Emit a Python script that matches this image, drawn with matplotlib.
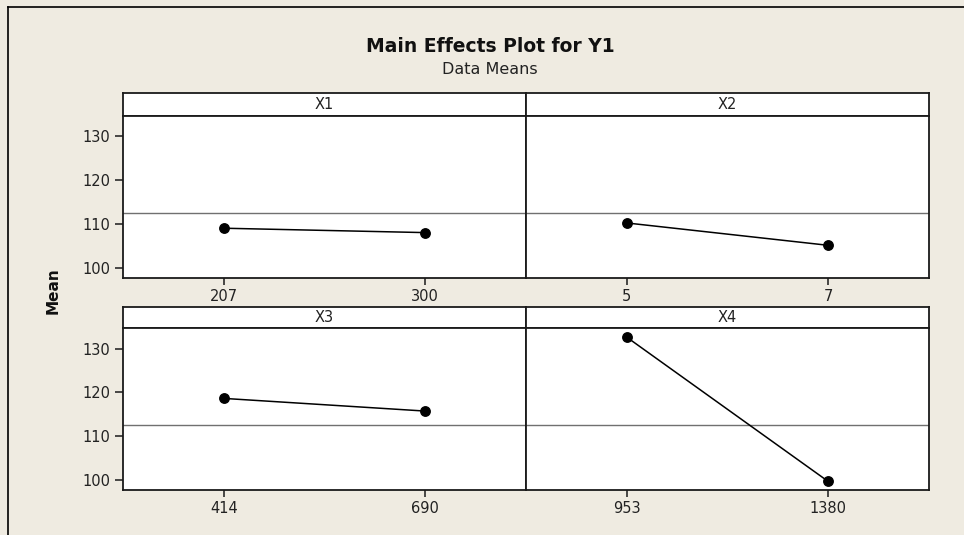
import matplotlib.pyplot as plt
from matplotlib.lines import Line2D

# factor names, levels and the mean response at each level
factors = ['X1', 'X2', 'X3', 'X4']
levels = [['207', '300'], ['5', '7'], ['414', '690'], ['953', '1380']]
means = [[109.0, 108.0], [110.2, 105.1], [118.6, 115.7], [132.6, 99.6]]
grand_mean = 112.5
y_ticks = [100, 110, 120, 130]

W, H = 964, 535
bg = '#efebe1'
edge = '#1a1a1a'

fig = plt.figure(figsize=(W / 100, H / 100), dpi=100, facecolor=bg)


def box(x0, y0, x1, y1):
    # pixel box (top-left origin) -> figure fraction rect
    return [x0 / W, 1 - y1 / H, (x1 - x0) / W, (y1 - y0) / H]


cols = [(123, 526), (526, 929)]
rows = [(93, 115.5, 278), (307, 328, 490)]

for i, name in enumerate(factors):
    r, c = divmod(i, 2)
    x0, x1 = cols[c]
    ys, yp, yb = rows[r]

    # strip with the factor name
    st = fig.add_axes(box(x0, ys, x1, yp))
    st.set_facecolor('white')
    st.set_xticks([])
    st.set_yticks([])
    for s in st.spines.values():
        s.set_color(edge)
        s.set_linewidth(1.3)
    st.text(0.5, 0.5, name, ha='center', va='center', fontsize=10.5,
            color='#222222', transform=st.transAxes)

    ax = fig.add_axes(box(x0, yp, x1, yb))
    ax.set_facecolor('white')
    ax.axhline(grand_mean, color='#707070', lw=1.0, zorder=1)
    ax.plot([0, 1], means[i], color='black', lw=1.1, marker='o',
            markersize=6.8, zorder=3)
    ax.set_xlim(-0.5, 1.5)
    ax.set_ylim(97.65, 134.7)
    ax.set_xticks([0, 1])
    ax.set_xticklabels(levels[i])
    ax.set_yticks(y_ticks)
    if c == 1:
        ax.tick_params(axis='y', left=False, labelleft=False)
    ax.tick_params(direction='out', length=5, width=1.1, color=edge,
                   labelsize=10.5, labelcolor='#222222', pad=3)
    ax.tick_params(axis='y', length=6)
    for s in ax.spines.values():
        s.set_color(edge)
        s.set_linewidth(1.3)

fig.text(490 / W, 1 - 46 / H, 'Main Effects Plot for Y1', ha='center',
         va='center', fontsize=13.5, fontweight='bold', color='#111111')
fig.text(490 / W, 1 - 69 / H, 'Data Means', ha='center', va='center',
         fontsize=11.5, color='#222222')
fig.text(53 / W, 1 - 291 / H, 'Mean', ha='center', va='center',
         rotation=90, fontsize=11, fontweight='bold', color='#111111')

# outer frame edges on top and left
fig.add_artist(Line2D([8 / W, 1], [1 - 7 / H, 1 - 7 / H], color='black',
                      lw=1.2, transform=fig.transFigure))
fig.add_artist(Line2D([8 / W, 8 / W], [0, 1 - 7 / H], color='black',
                      lw=1.2, transform=fig.transFigure))

fig.savefig('out.png', dpi=100, facecolor=bg)
